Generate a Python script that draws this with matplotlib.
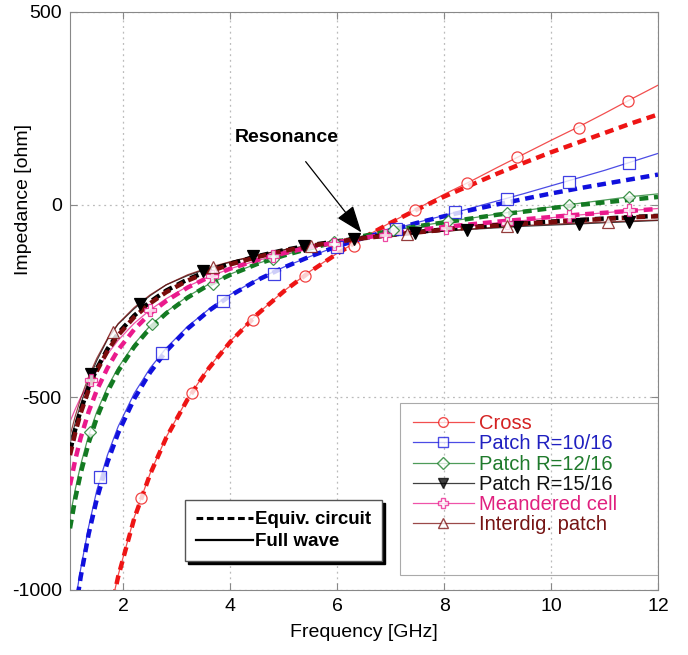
import numpy as np
import matplotlib.pyplot as plt
from matplotlib.lines import Line2D
from matplotlib.patches import Rectangle

plt.rcParams['font.family'] = ['Liberation Sans', 'DejaVu Sans']
plt.rcParams['axes.unicode_minus'] = False

# frequency grid [GHz] shared by all curves
freq = [1.0, 1.1, 1.2, 1.35, 1.5, 1.7, 1.9, 2.2, 2.5, 2.8, 3.2, 3.6, 4.0, 4.5, 5.0,
        5.5, 6.0, 6.5, 7.0, 7.5, 8.0, 8.5, 9.0, 9.5, 10.0, 10.5, 11.0, 11.5, 12.0]

# equivalent circuit (dashed)
cross_eq = [-1921, -1740, -1589, -1403, -1253, -1093, -966, -815, -699, -605, -505, -424, -356, -285, -225,
            -173, -127, -85, -47, -12, 21, 51, 81, 109, 136, 161, 186, 211, 234]
p10_eq = [-1165, -1057, -966, -854, -765, -669, -593, -504, -435, -380, -322, -275, -236, -196, -163,
          -134, -108, -86, -66, -47, -30, -14, 1, 15, 29, 42, 54, 66, 78]
p12_eq = [-840, -762, -697, -618, -554, -486, -432, -369, -320, -282, -241, -208, -182, -154, -132,
          -113, -96, -81, -68, -56, -46, -36, -26, -18, -9, -1, 6, 13, 20]
p15_eq = [-640, -582, -533, -473, -426, -375, -334, -288, -252, -223, -194, -171, -153, -134, -118,
          -105, -95, -86, -78, -71, -64, -58, -53, -48, -44, -40, -36, -32, -29]
meander_eq = [-728, -661, -605, -537, -482, -424, -377, -324, -282, -250, -215, -188, -166, -144, -126,
              -110, -97, -86, -75, -66, -58, -51, -44, -38, -32, -26, -21, -16, -11]
interdig_eq = [-650, -591, -541, -480, -432, -380, -339, -292, -256, -227, -197, -174, -155, -136, -120,
               -107, -96, -87, -79, -72, -65, -59, -54, -49, -45, -41, -37, -33, -30]

# full wave (solid)
cross_fw = [-1900, -1725, -1578, -1395, -1246, -1088, -962, -812, -697, -603, -503, -422, -354, -284, -224,
            -172, -126, -85, -46, -10, 27, 61, 97, 132, 167, 201, 237, 274, 310]
p10_fw = [-1130, -1030, -945, -835, -742, -650, -576, -490, -424, -372, -316, -271, -233, -194, -162,
          -134, -108, -86, -66, -46, -28, -9, 10, 29, 49, 69, 89, 111, 133]
p12_fw = [-810, -738, -675, -598, -538, -474, -423, -362, -314, -278, -238, -206, -180, -153, -131,
          -112, -96, -81, -68, -56, -45, -35, -24, -15, -6, 3, 12, 21, 28]
p15_fw = [-620, -565, -518, -455, -405, -350, -310, -270, -236, -208, -184, -165, -149, -131, -117,
          -105, -94, -85, -78, -73, -69, -64, -60, -56, -53, -50, -47, -44, -41]
meander_fw = [-563, -530, -500, -466, -430, -388, -352, -308, -273, -244, -212, -187, -166, -145, -127,
              -112, -99, -88, -77, -69, -61, -54, -47, -41, -34, -27, -21, -15, -10]
interdig_fw = [-600, -548, -503, -446, -399, -348, -309, -267, -234, -208, -182, -163, -148, -131, -118,
               -106, -96, -87, -80, -74, -68, -63, -58, -54, -51, -48, -45, -42, -40]

# full wave marker samples
cross_mf = [2.33, 3.29, 4.42, 5.40, 6.32, 7.46, 8.42, 9.37, 10.52, 11.44]
cross_mz = [-761, -490, -300, -186, -108, -13, 57, 123, 199, 270]
p10_mf = [1.56, 2.72, 3.86, 4.81, 6.0, 7.1, 8.21, 9.18, 10.33, 11.45]
p10_mz = [-708, -386, -249, -179, -110, -62, -20, 15, 60, 108]
p12_mf = [1.37, 2.53, 3.67, 4.8, 5.93, 7.05, 8.08, 9.18, 10.33, 11.45]
p12_mz = [-589, -310, -205, -140, -98, -67, -43, -21, 0, 20]
p15_mf = [1.39, 2.31, 3.48, 4.42, 5.37, 6.32, 7.46, 8.43, 9.37, 10.52, 11.45]
p15_mz = [-440, -257, -171, -134, -108, -88, -74, -65, -57, -50, -45]
meander_mf = [1.39, 2.5, 3.65, 4.8, 5.93, 6.9, 8.04, 9.17, 10.33, 11.45]
meander_mz = [-455, -273, -184, -134, -101, -79, -61, -48, -30, -15]
interdig_mf = [1.8, 3.67, 5.5, 7.3, 9.18, 11.07]
interdig_mz = [-330, -162, -106, -77, -56, -45]

names = ['Cross', 'Patch R=10/16', 'Patch R=12/16', 'Patch R=15/16', 'Meandered cell', 'Interdig. patch']
colors = ['#ee1414', '#1010dd', '#137a22', '#000000', '#ea1a8c', '#7a0c0c']
text_colors = ['#d42222', '#2020c0', '#1f7a2c', '#111111', '#e0207f', '#761414']
markers = ['o', 's', 'D', 'v', 'P', '^']

eq = [cross_eq, p10_eq, p12_eq, p15_eq, meander_eq, interdig_eq]
fw = [cross_fw, p10_fw, p12_fw, p15_fw, meander_fw, interdig_fw]
mf = [cross_mf, p10_mf, p12_mf, p15_mf, meander_mf, interdig_mf]
mz = [cross_mz, p10_mz, p12_mz, p15_mz, meander_mz, interdig_mz]

fig = plt.figure(figsize=(6.88, 6.55), dpi=100)
ax = fig.add_axes([70 / 688, 65 / 655, 588 / 688, 578 / 655])

for i in range(6):
    ax.plot(freq, fw[i], color=colors[i], lw=0.9, alpha=0.75, zorder=2)
for i in range(6):
    ax.plot(freq, eq[i], color=colors[i], lw=3.2, ls=(0, (2.0, 1.3)), zorder=3)
for i in range(6):
    filled = markers[i] == 'v'
    ax.plot(mf[i], mz[i], ls='none', marker=markers[i], ms=6.5 if markers[i] == 'D' else 8,
            mfc=colors[i] if filled else 'white', mec=colors[i], mew=0.9,
            alpha=1 if filled else 0.8, zorder=4)

ax.set_xlim(1, 12)
ax.set_ylim(-1000, 500)
ax.set_xticks([2, 4, 6, 8, 10, 12])
ax.set_yticks([-1000, -500, 0, 500])
ax.grid(True, ls=(0, (1.5, 3)), color='#bbbbbb', lw=0.9)
ax.tick_params(direction='in', top=True, right=True, labelsize=14, colors='#888888',
               labelcolor='black', length=5, pad=6)
for s in ax.spines.values():
    s.set_color('#888888')
ax.set_xlabel('Frequency [GHz]', fontsize=14, labelpad=6)
ax.set_ylabel('Impedance [ohm]', fontsize=14)
ax.yaxis.set_label_coords(-0.064, 0.675)

ax.annotate('Resonance', xy=(6.45, -72), xytext=(5.05, 175), ha='center', va='center',
            fontsize=14, fontweight='bold',
            arrowprops=dict(arrowstyle='-|>,head_length=1.2,head_width=0.45', color='black',
                            lw=0.9, shrinkA=12, shrinkB=0))

# series legend
handles = [Line2D([], [], color=colors[i], lw=0.9, alpha=0.75, marker=markers[i],
                  ms=7 if markers[i] != 'D' else 6, mfc=colors[i] if markers[i] == 'v' else 'white',
                  mec=colors[i]) for i in range(6)]
leg1 = ax.legend(handles, names, loc='upper left', bbox_to_anchor=(0.57, 0.318), frameon=False,
                 fontsize=14.5, handlelength=3.0, handletextpad=0.25, labelspacing=0.06,
                 borderaxespad=0)
for t, c in zip(leg1.get_texts(), text_colors):
    t.set_color(c)
ax.add_artist(leg1)
ax.add_patch(Rectangle((0.561, 0.026), 0.439, 0.298, transform=ax.transAxes, fill=False,
                       ec='#aaaaaa', lw=0.8, zorder=5))

# line style legend
style_handles = [Line2D([], [], color='black', lw=2.2, ls=(0, (2.2, 1.2))),
                 Line2D([], [], color='black', lw=1.6)]
leg2 = ax.legend(style_handles, ['Equiv. circuit', 'Full wave'], loc='upper left',
                 bbox_to_anchor=(0.18, 0.172), prop={'weight': 'bold', 'size': 13.5},
                 handlelength=3.0, handletextpad=0.1, labelspacing=0.25, borderpad=0.6,
                 fancybox=False, edgecolor='#555555', framealpha=1,
                 shadow={'color': 'black', 'alpha': 1})
leg2.get_frame().set_linewidth(1.0)

fig.savefig('out.png', dpi=100)
